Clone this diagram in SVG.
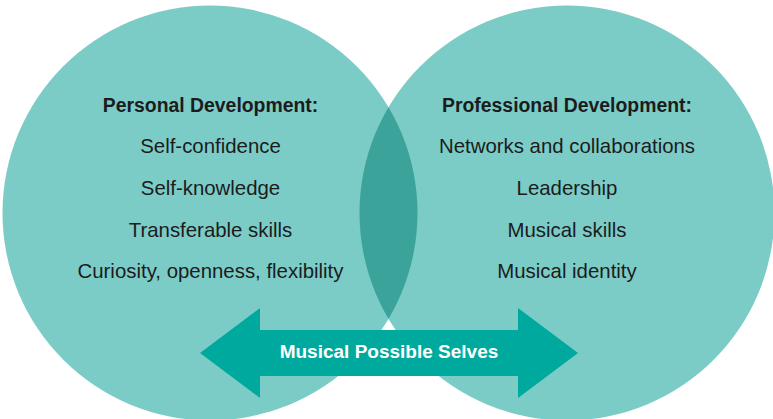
<svg xmlns="http://www.w3.org/2000/svg" width="773" height="419" viewBox="0 0 773 419">
<style>
.circle{fill:#7bccc7}
.lens{fill:#3ca39b}
.arrow{fill:#00a99d}
text{font-family:"Liberation Sans",Arial,sans-serif;text-anchor:middle;fill:#1c1c1c}
.h{font-weight:bold;font-size:19.4px}
.i{font-size:20.4px}
.a{font-weight:bold;font-size:19px;fill:#ffffff}
</style>
<defs>
<clipPath id="clipL"><circle cx="210" cy="213" r="207.5"/></clipPath>
</defs>
<g id="personal">
<circle class="circle" cx="210" cy="213" r="207.5"/>
<text class="h" x="210.5" y="112">Personal Development:</text>
<text class="i" x="210.5" y="153">Self-confidence</text>
<text class="i" x="210.5" y="195">Self-knowledge</text>
<text class="i" x="210.5" y="237">Transferable skills</text>
<text class="i" x="210.5" y="278">Curiosity, openness, flexibility</text>
</g>
<g id="professional">
<circle class="circle" cx="567" cy="213" r="207.5"/>
<text class="h" x="567" y="112">Professional Development:</text>
<text class="i" x="567" y="153">Networks and collaborations</text>
<text class="i" x="567" y="195">Leadership</text>
<text class="i" x="567" y="237">Musical skills</text>
<text class="i" x="567" y="278">Musical identity</text>
</g>
<g id="overlap">
<circle class="lens" cx="567" cy="213" r="207.5" clip-path="url(#clipL)"/>
</g>
<g id="connectors">
<g id="musical-possible-selves">
<polygon class="arrow" points="200,353 260,308 260,330 518,330 518,308 578,353 518,398 518,376 260,376 260,398"/>
<text class="a" x="389" y="358">Musical Possible Selves</text>
</g>
</g>
</svg>
